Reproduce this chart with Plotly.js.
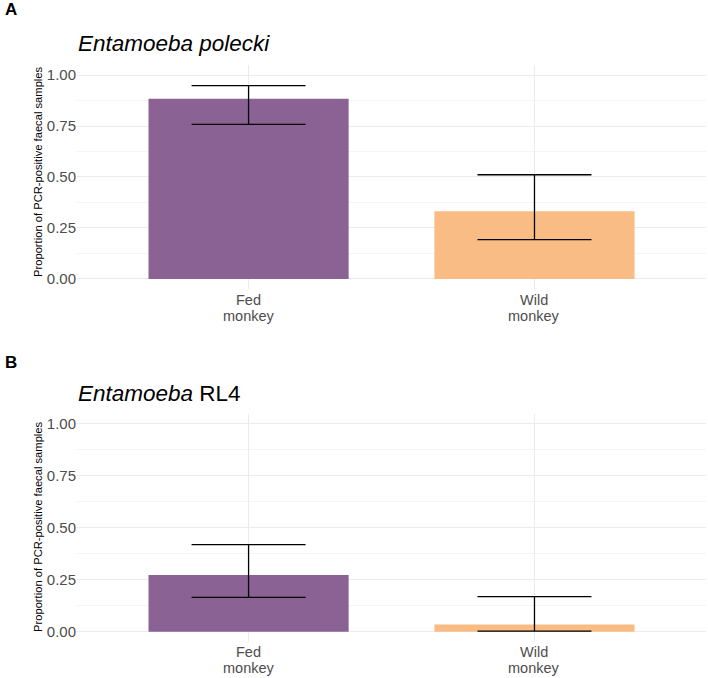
<!DOCTYPE html>
<html>
<head>
<meta charset="utf-8">
<script src="https://cdn.plot.ly/plotly-3.0.1.min.js"></script>
<style>html,body{margin:0;padding:0;background:#fff;}#chart{width:708px;height:678px;}</style>
</head>
<body>
<div id="chart"></div>
<script>
const categories = ["Fed monkey", "Wild monkey"];
const labelLines = [["Fed", "monkey"], ["Wild", "monkey"]];
const barColors = ["#8A6294", "#F9BC85"];
// Panel A: Entamoeba polecki
const polecki = [0.884, 0.332];
const poleckiUpper = [0.948, 0.511];
const poleckiLower = [0.758, 0.193];
// Panel B: Entamoeba RL4
const rl4 = [0.273, 0.034];
const rl4Upper = [0.419, 0.169];
const rl4Lower = [0.165, 0.003];
const yTicks = [0, 0.25, 0.5, 0.75, 1];
const yTickText = ["0.00", "0.25", "0.50", "0.75", "1.00"];

function barTrace(vals, up, lo, xa, ya) {
  return {
    type: "bar", x: categories, y: vals, xaxis: xa, yaxis: ya,
    width: 0.7,
    marker: {color: barColors, line: {width: 0}},
    error_y: {
      type: "data", symmetric: false,
      array: up.map((u, i) => u - vals[i]),
      arrayminus: lo.map((l, i) => vals[i] - l),
      color: "#000000", thickness: 1.3, width: 57
    },
    hoverinfo: "none", showlegend: false
  };
}

const data = [
  barTrace(polecki, poleckiUpper, poleckiLower, "x", "y"),
  barTrace(rl4, rl4Upper, rl4Lower, "x2", "y2")
];

const font = {family: "Liberation Sans, Arial, sans-serif"};
function xaxis(anchor) {
  return {
    domain: [0.1088, 0.9972], anchor: anchor, type: "category",
    range: [-0.6, 1.6], showgrid: true, gridcolor: "#EBEBEB", gridwidth: 1,
    zeroline: false, showline: false, ticks: "", showticklabels: false,
    fixedrange: true
  };
}
function yaxis(anchor, domain) {
  return {
    domain: domain, anchor: anchor, range: [-0.05, 1.05],
    tickvals: yTicks, ticktext: yTickText,
    showgrid: true, gridcolor: "#EBEBEB", gridwidth: 1,
    minor: {tickvals: [0.125, 0.375, 0.625, 0.875], showgrid: true, gridcolor: "#F4F4F4", gridwidth: 1, ticks: ""},
    zeroline: false, showline: false, ticks: "",
    tickfont: {family: font.family, size: 15, color: "#4D4D4D"},
    fixedrange: true
  };
}

const ytitle = "Proportion of PCR-positive faecal samples";
const annotations = [
  {text: "<b>A</b>", xref: "paper", yref: "paper", x: 3/708, y: 1 - 10/678, xanchor: "left", yanchor: "middle", showarrow: false, font: {family: font.family, size: 17, color: "#000"}},
  {text: "<b>B</b>", xref: "paper", yref: "paper", x: 3/708, y: 1 - 362/678, xanchor: "left", yanchor: "middle", showarrow: false, font: {family: font.family, size: 17, color: "#000"}},
  {text: "<i>Entamoeba polecki</i>", xref: "paper", yref: "paper", x: 76/708, y: 1 - 43/678, xanchor: "left", yanchor: "middle", showarrow: false, font: {family: font.family, size: 22.5, color: "#000"}},
  {text: "<i>Entamoeba</i> RL4", xref: "paper", yref: "paper", x: 76/708, y: 1 - 393/678, xanchor: "left", yanchor: "middle", showarrow: false, font: {family: font.family, size: 22.5, color: "#000"}},
  {text: ytitle, xref: "paper", yref: "paper", x: 38/708, y: 1 - 172/678, xanchor: "center", yanchor: "middle", textangle: -90, showarrow: false, font: {family: font.family, size: 11.2, color: "#000"}},
  {text: ytitle, xref: "paper", yref: "paper", x: 38/708, y: 1 - 527/678, xanchor: "center", yanchor: "middle", textangle: -90, showarrow: false, font: {family: font.family, size: 11.2, color: "#000"}}
];
// x tick labels (two lines each, ggplot-like tight spacing)
const panelLabelY = [[300, 315.5], [652, 667.5]];
[["x", 0], ["x2", 1]].forEach(([xa, p]) => {
  categories.forEach((c, i) => {
    labelLines[i].forEach((line, j) => {
      annotations.push({text: line, xref: xa, yref: "paper", x: c, y: 1 - panelLabelY[p][j]/678,
        xanchor: "center", yanchor: "middle", showarrow: false,
        font: {family: font.family, size: 14.5, color: "#4D4D4D"}});
    });
  });
});

const layout = {
  width: 708, height: 678,
  margin: {l: 0, r: 0, t: 0, b: 0},
  paper_bgcolor: "#ffffff", plot_bgcolor: "#ffffff",
  font: font,
  xaxis: xaxis("y"),
  yaxis: yaxis("x", [0.5735, 0.9044]),
  xaxis2: xaxis("y2"),
  yaxis2: yaxis("x2", [0.0530, 0.3900]),
  annotations: annotations
};

Plotly.newPlot("chart", data, layout, {displayModeBar: false, staticPlot: true});
</script>
</body>
</html>
